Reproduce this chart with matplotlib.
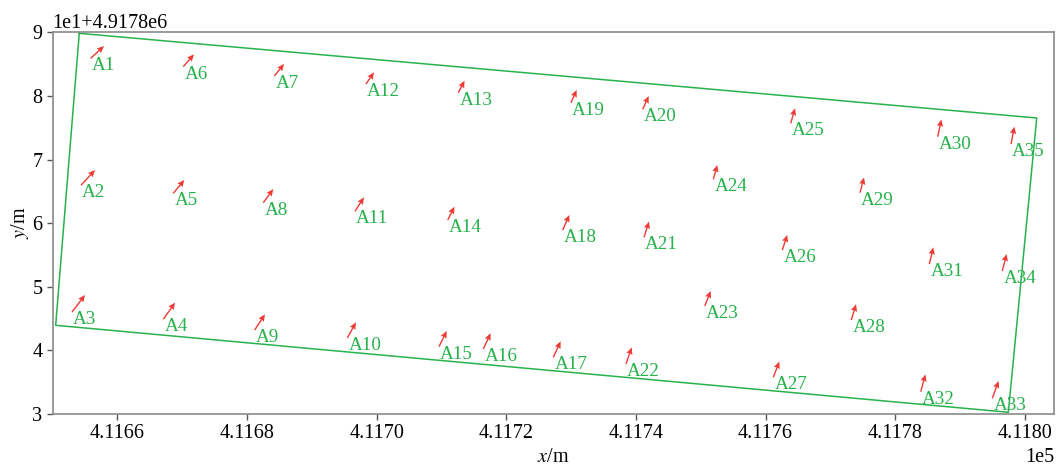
import numpy as np
import matplotlib
matplotlib.use('Agg')
import matplotlib.pyplot as plt

plt.rcParams['font.family'] = ['Liberation Serif', 'DejaVu Serif']
plt.rcParams['mathtext.fontset'] = 'stix'

# station names, positions (tail of the arrow) and displacement vectors
names = ['A%d' % i for i in range(1, 36)]
x = np.array([411655.86, 411654.37, 411652.98, 411667.07, 411668.61, 411670.15, 411684.20,
              411682.50, 411681.17, 411695.46, 411696.65, 411698.35, 411712.59, 411710.96,
              411709.61, 411716.45, 411727.25, 411728.70, 411729.98, 411741.05, 411741.25,
              411738.47, 411750.62, 411751.94, 411763.89, 411762.59, 411761.20, 411773.24,
              411774.58, 411786.57, 411785.28, 411783.95, 411795.00, 411796.54, 411797.89])
y = np.array([4917885.91, 4917865.95, 4917846.03, 4917844.89, 4917864.69, 4917884.59, 4917883.13,
              4917863.21, 4917843.20, 4917841.95, 4917861.86, 4917881.87, 4917880.50, 4917860.49,
              4917840.58, 4917840.22, 4917838.91, 4917858.92, 4917878.93, 4917877.89, 4917857.77,
              4917837.86, 4917846.98, 4917866.89, 4917875.69, 4917855.78, 4917835.77, 4917844.78,
              4917864.78, 4917873.59, 4917853.58, 4917833.51, 4917832.47, 4917852.48, 4917872.44])
u = np.array([2.05, 2.16, 2.01, 1.81, 1.70, 1.65, 1.50, 1.54, 1.59, 1.34, 1.39, 1.23, 0.97, 1.03,
              1.19, 1.13, 1.13, 1.03, 0.88, 0.93, 0.77, 0.88, 0.93, 0.62, 0.66, 0.77, 0.93, 0.73,
              0.62, 0.57, 0.62, 0.73, 0.97, 0.66, 0.51])
v = np.array([1.93, 2.40, 2.67, 2.61, 2.09, 1.95, 1.89, 2.15, 2.47, 2.47, 2.20, 1.84, 1.89, 2.09,
              2.47, 2.47, 2.51, 2.36, 2.00, 2.09, 2.47, 2.62, 2.36, 2.25, 2.36, 2.36, 2.47, 2.47,
              2.40, 2.72, 2.62, 2.72, 2.72, 2.67, 2.72])

# boundary of the area
bx = [411654.10, 411801.85, 411797.47, 411650.46, 411654.10]
by = [4917889.84, 4917876.53, 4917830.27, 4917843.94, 4917889.84]

green = '#28b24b'
red = '#ee3b36'

fig = plt.figure(figsize=(10.56, 4.66), dpi=100)
ax = fig.add_axes([0.0499, 0.1116, 0.9481, 0.8191])

ax.plot(bx, by, color=green, linewidth=1.1)
ax.quiver(x, y, u, v, angles='xy', scale_units='xy', scale=1, color=red,
          width=0.0014, headwidth=4.5, headlength=5, headaxislength=4.5)
for n, xi, yi in zip(names, x, y):
    ax.annotate(n, (xi, yi), xytext=(0.8, 0.8), textcoords='offset points',
                ha='left', va='top', color=green, fontsize=13.8)

ax.set_xlim(411650, 411804.5)
ax.set_ylim(4917830, 4917890)
ax.set_xticks([411660, 411680, 411700, 411720, 411740, 411760, 411780, 411800])
ax.set_yticks([4917830, 4917840, 4917850, 4917860, 4917870, 4917880, 4917890])
ax.ticklabel_format(style='sci', scilimits=(0, 0))

ax.set_xlabel('$x$/m', fontsize=14.5, labelpad=3)
ax.set_ylabel('$y$/m', fontsize=14.5, labelpad=1)
ax.tick_params(labelsize=14.5, colors='#555555', labelcolor='black', length=4, width=1)
ax.xaxis.get_offset_text().set_fontsize(14.5)
ax.yaxis.get_offset_text().set_fontsize(14.5)
for spine in ax.spines.values():
    spine.set_color('#8a8a8a')
    spine.set_linewidth(1.2)

fig.savefig('out.png', dpi=100, facecolor='white')
